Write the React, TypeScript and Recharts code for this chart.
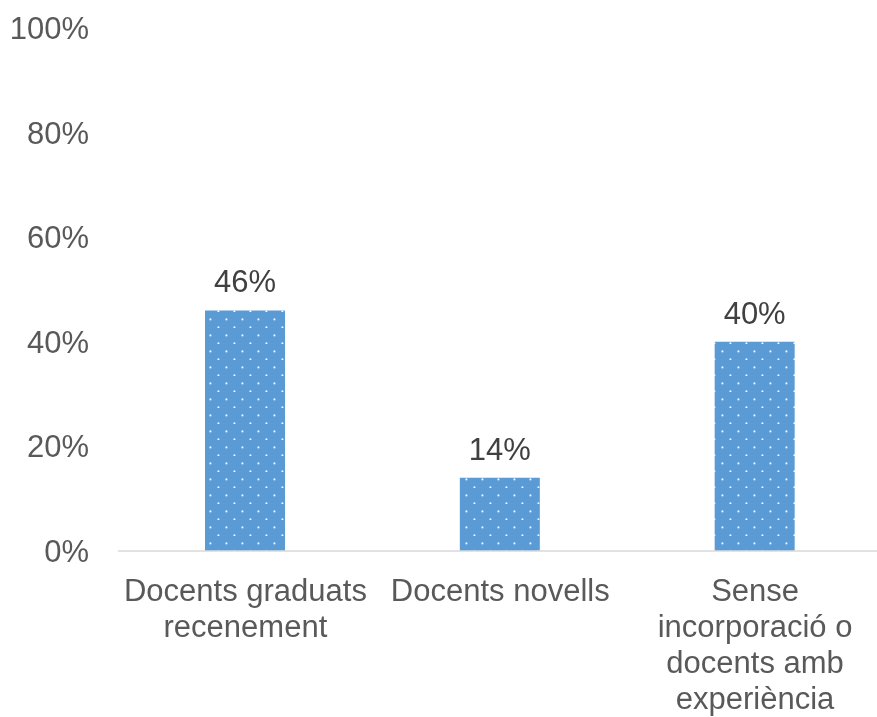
import React from "react";
import { BarChart, Bar, XAxis, YAxis, LabelList } from "recharts";

const categories = [
  "Docents graduats recenement",
  "Docents novells",
  "Sense incorporació o docents amb experiència",
];
const values = [46, 14, 40];
const yTicks = [0, 20, 40, 60, 80, 100];

const data = categories.map((name, i) => ({ name, value: values[i] }));

const FONT = "'Liberation Sans', Arial, sans-serif";
const FONT_SIZE = 31;

let ctx: CanvasRenderingContext2D | null = null;
function measure(s: string): number {
  if (!ctx) {
    const c = document.createElement("canvas");
    ctx = c.getContext("2d");
  }
  if (!ctx) return s.length * FONT_SIZE * 0.5;
  ctx.font = `${FONT_SIZE}px ${FONT}`;
  return ctx.measureText(s).width;
}

function wrap(text: string, maxWidth: number): string[] {
  const words = text.split(" ");
  const lines: string[] = [];
  let cur = "";
  for (const w of words) {
    const next = cur ? cur + " " + w : w;
    if (cur && measure(next) > maxWidth) {
      lines.push(cur);
      cur = w;
    } else {
      cur = next;
    }
  }
  if (cur) lines.push(cur);
  return lines;
}

const XTick = (props: any) => {
  const { x, y, payload } = props;
  const lines = wrap(String(payload.value), 252);
  return (
    <text
      x={x}
      y={y}
      textAnchor="middle"
      fill="#595959"
      style={{ fontSize: FONT_SIZE, fontFamily: FONT }}
    >
      {lines.map((l, i) => (
        <tspan key={i} x={x} dy={i === 0 ? "0.71em" : 36}>
          {l}
        </tspan>
      ))}
    </text>
  );
};

export default function App() {
  return (
    <div style={{ position: "fixed", left: 8, top: 8 }}>
      <BarChart
        width={880}
        height={709}
        data={data}
        margin={{ top: 20, right: 5.5, bottom: 0, left: 0 }}
      >
        <defs>
          <pattern id="dots" patternUnits="userSpaceOnUse" width={16} height={16}>
            <rect x={0} y={0} width={16} height={16} fill="#5B9BD5" />
            <rect x={9.5} y={6.5} width={1.8} height={1.8} fill="#ffffff" />
            <rect x={1.5} y={14.5} width={1.8} height={1.8} fill="#ffffff" />
          </pattern>
        </defs>
        <XAxis
          dataKey="name"
          axisLine={{ stroke: "#D9D9D9", strokeWidth: 1.5 }}
          tickLine={false}
          tickSize={0}
          tickMargin={28}
          height={166}
          interval={0}
          tick={<XTick />}
        />
        <YAxis
          domain={[0, 100]}
          ticks={yTicks}
          width={110}
          axisLine={false}
          tickLine={false}
          tickSize={0}
          tickMargin={29}
          tickFormatter={(v: number) => `${v}%`}
          tick={{ fill: "#595959", fontSize: FONT_SIZE, fontFamily: FONT }}
        />
        <Bar dataKey="value" fill="url(#dots)" barSize={80} isAnimationActive={false}>
          <LabelList
            dataKey="value"
            position="top"
            offset={18}
            formatter={(v: any) => `${v}%`}
            style={{ fill: "#404040", fontSize: FONT_SIZE, fontFamily: FONT }}
          />
        </Bar>
      </BarChart>
    </div>
  );
}
